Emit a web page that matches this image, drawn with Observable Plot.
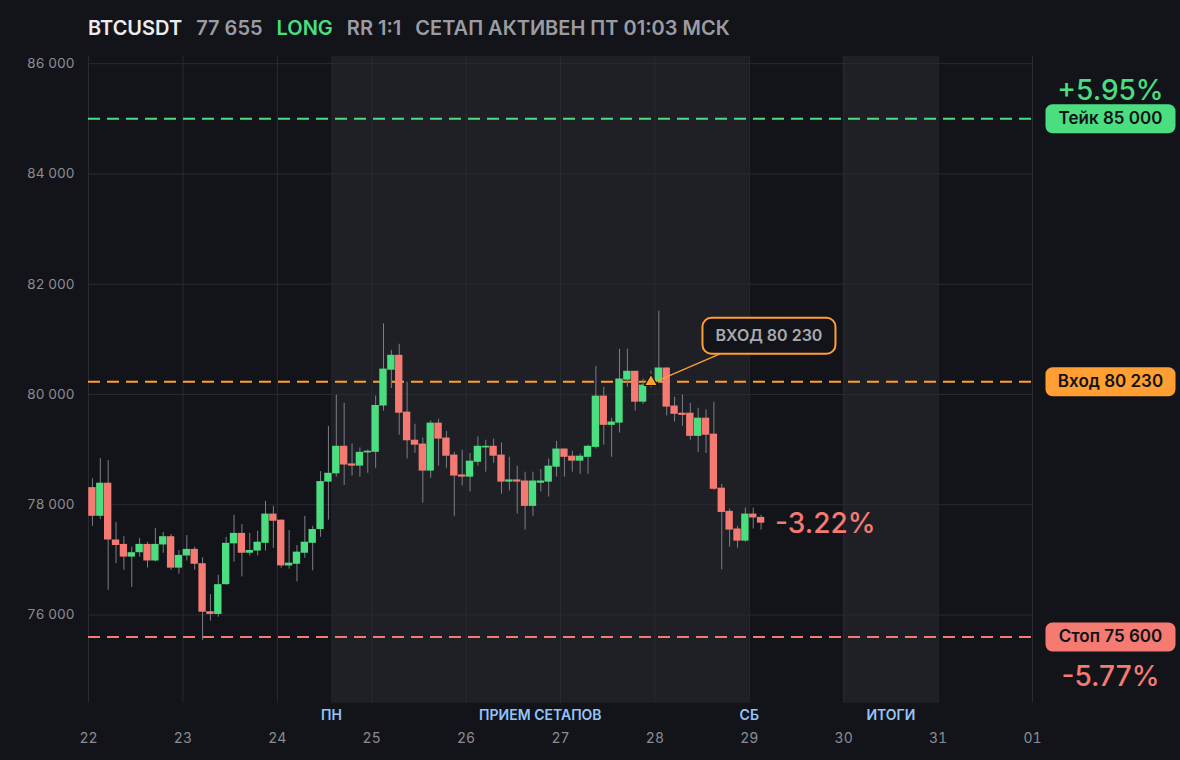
<!DOCTYPE html>
<html>
<head>
<meta charset="utf-8">
<script src="https://cdn.jsdelivr.net/npm/d3@7"></script>
<script src="https://cdn.jsdelivr.net/npm/@observablehq/plot@0.6"></script>
<style>
  html, body { margin: 0; padding: 0; background: #131419; }
  body { width: 1180px; height: 760px; overflow: hidden; font-family: Inter, "Noto Sans", sans-serif; }
  #title { height: 40px; padding-top: 8px; padding-left: 88px; line-height: 40px; font-size: 20px; font-weight: 600; color: #9b9ca3; white-space: nowrap; }
  #title span { margin-right: 14px; }
  #chart svg { display: block; }
</style>
</head>
<body>
<div id="title"><span style="color:#ececee">BTCUSDT</span><span>77 655</span><span style="color:#4ade80">LONG</span><span>RR 1:1</span><span>СЕТАП АКТИВЕН ПТ 01:03 МСК</span></div>
<div id="chart"></div>
<script>
// ---- data ----
const candleStart = "2025-03-22T00:00:00Z"; // 2-hour candles
const opens  = [78310,77790,78390,77360,77280,77050,77130,77280,76980,77270,77420,76850,77070,77190,76930,76060,76010,76550,77290,77480,77120,77160,77300,77830,77720,76890,76920,77120,77300,77550,78410,78560,79060,78740,78700,78940,78950,79790,80440,80710,79680,79170,79100,78610,79480,79210,78900,78540,78500,78770,79030,79060,78900,78410,78450,78430,77970,78390,78410,78680,79010,78880,78790,78860,79040,79970,79440,79480,80260,80420,79860,80170,80230,80480,79790,79660,79660,79240,79570,79280,78300,77880,77560,77340,77830,77770];
const highs  = [78470,78840,78800,77680,77420,77230,77390,77320,77570,77500,77460,77170,77440,77230,77040,76370,76720,77410,77810,77640,77480,77520,78060,77970,77720,77530,77260,77790,77610,78600,79420,79990,79840,79100,79030,78990,79970,81280,80800,80910,80220,79460,79210,79520,79550,79330,78950,78990,78930,79230,79170,79190,79120,78860,78700,78590,78590,78640,78830,79150,79010,78970,78920,79080,80510,80130,79570,80820,80820,80420,80280,80420,81510,80480,79950,79990,79840,79750,79720,79860,78370,77920,77610,77940,77940,77810];
const lows   = [77610,77730,76450,76930,76810,76500,77050,76850,76960,77120,76810,76740,76980,76810,75540,75890,75960,76540,76960,76690,77070,77070,77160,77210,76850,76830,76600,77030,76800,77410,77720,78500,78350,78520,78500,78570,78660,79700,80110,79260,78830,78930,78030,78480,78700,78660,77790,78340,78230,78700,78590,78750,78190,78250,77830,77540,77790,78230,78140,78500,78500,78590,78550,78550,79010,79080,78860,79300,80130,79700,79820,80120,80200,79610,79500,79420,79170,78950,78930,78260,76820,77230,77210,77320,77560,77540];
const closes = [77790,78390,77360,77260,77050,77130,77280,76980,77280,77420,76850,77080,77190,76920,76050,76010,76550,77300,77480,77120,77170,77320,77830,77700,76890,76940,77140,77320,77550,78420,78570,79060,78720,78700,78950,78970,79800,80460,80710,79660,79160,79080,78610,79480,79190,78880,78520,78500,78790,79060,79060,78880,78410,78450,78410,77970,78430,78430,78700,79010,78860,78790,78880,79060,79970,79440,79500,80280,80420,79860,80170,80230,80480,79770,79640,79620,79240,79570,79260,78280,77860,77540,77340,77830,77760,77665];

const levelNames  = ["Тейк 85 000", "Вход 80 230", "Стоп 75 600"];
const levelPrices = [85000, 80230, 75600];
const takePct = "+5.95%";
const stopPct = "-5.77%";

const entryTime  = "2025-03-27T23:00:00Z";
const entryPrice = 80230;
const entryLabel = "ВХОД 80 230";
const lastPct    = "-3.22%";

const xStart = "2025-03-22T00:00:00Z";
const xEnd   = "2025-04-01T00:00:00Z";
const yTicks = [76000, 78000, 80000, 82000, 84000, 86000];

const shadeStarts = ["2025-03-24T13:45:00Z", "2025-03-30T00:00:00Z"];
const shadeEnds   = ["2025-03-29T00:00:00Z", "2025-03-31T00:00:00Z"];
const phaseNames  = ["ПН", "ПРИЕМ СЕТАПОВ", "СБ", "ИТОГИ"];

// ---- colours ----
const BG = "#131419", SHADE = "#1f2025", GRID = "#2a2b30", AXIS = "#8b8d94";
const GREEN = "#4ade80", RED = "#f47a72", ORANGE = "#ff9f33", WICK = "#7c7e86", BLUE = "#93c5fd";
const levelColors = [GREEN, ORANGE, RED];

// ---- tables ----
const H2 = 2 * 3600 * 1000;
const t0 = new Date(candleStart).getTime();
const candles = opens.map((o, i) => ({
  t0: new Date(t0 + i * H2),
  t1: new Date(t0 + (i + 1) * H2),
  t: new Date(t0 + i * H2 + H2 / 2),
  open: o, high: highs[i], low: lows[i], close: closes[i]
}));
const levels = levelNames.map((name, i) => ({name, price: levelPrices[i], color: levelColors[i]}));
const shades = shadeStarts.map((s, i) => ({start: new Date(s), end: new Date(shadeEnds[i])}));
const sS = shades[0].start, sE = shades[0].end, s2 = shades[1];
const phases = [
  {t: sS, name: phaseNames[0]},
  {t: new Date((+sS + +sE) / 2), name: phaseNames[1]},
  {t: sE, name: phaseNames[2]},
  {t: new Date((+s2.start + +s2.end) / 2), name: phaseNames[3]}
];
const dayTicks = d3.utcDay.range(new Date(xStart), new Date(+new Date(xEnd) + 1));
const xMax = new Date(xEnd);
const last = candles[candles.length - 1];
const entry = [{t: new Date(entryTime), p: entryPrice}];

// ---- symbols ----
function roundRect(w, h, r, ox = 0, oy = 0) {
  return {draw(ctx) {
    const x0 = ox - w / 2, y0 = oy - h / 2, x1 = ox + w / 2, y1 = oy + h / 2;
    ctx.moveTo(x0 + r, y0);
    ctx.lineTo(x1 - r, y0);
    ctx.arcTo(x1, y0, x1, y0 + r, r);
    ctx.lineTo(x1, y1 - r);
    ctx.arcTo(x1, y1, x1 - r, y1, r);
    ctx.lineTo(x0 + r, y1);
    ctx.arcTo(x0, y1, x0, y1 - r, r);
    ctx.lineTo(x0, y0 + r);
    ctx.arcTo(x0, y0, x0 + r, y0, r);
    ctx.closePath();
  }};
}
const connector = {draw(ctx) { ctx.moveTo(4, 0); ctx.lineTo(69, -28); }};

const fmtK = d => d3.format(",")(d).replace(/,/g, " ");

const chart = Plot.plot({
  width: 1180,
  height: 712,
  marginTop: 8,
  marginBottom: 57.3,
  marginLeft: 88,
  marginRight: 148,
  style: {background: "transparent", color: AXIS, fontFamily: "Inter, 'Noto Sans', sans-serif", fontSize: "14px", overflow: "visible"},
  x: {type: "utc", domain: [new Date(xStart), xMax]},
  y: {domain: [74400, 86130]},
  color: {type: "identity"},
  marks: [
    Plot.rect(shades, {x1: "start", x2: "end", fill: SHADE}),
    Plot.ruleX(dayTicks, {stroke: GRID, strokeWidth: 1}),
    Plot.ruleY(yTicks, {stroke: GRID, strokeWidth: 1}),
    Plot.axisY(yTicks, {tickSize: 0, tickPadding: 14, tickFormat: fmtK, color: AXIS, fontSize: 13.5}),
    Plot.axisX(dayTicks, {tickSize: 0, tickPadding: 30, tickFormat: d3.utcFormat("%d"), color: AXIS, fontSize: 14}),
    Plot.text(phases, {x: "t", frameAnchor: "bottom", dy: 17, text: "name", fill: BLUE, fontSize: 14, fontWeight: 600}),
    Plot.ruleY(levels, {y: "price", stroke: "color", strokeWidth: 2, strokeDasharray: "12,7"}),
    Plot.ruleX(candles, {x: "t", y1: "low", y2: "high", stroke: WICK, strokeWidth: 1}),
    Plot.rect(candles, {x1: "t0", x2: "t1", y1: "open", y2: "close", insetLeft: 0.25, insetRight: 0.25,
      fill: d => d.close >= d.open ? GREEN : RED}),
    // entry marker & callout
    Plot.dot(entry, {x: "t", y: "p", symbol: connector, stroke: ORANGE, strokeWidth: 1.3, fill: "none"}),
    Plot.dot(entry, {x: "t", y: "p", symbol: "triangle", r: 4.8, fill: ORANGE, stroke: BG, strokeWidth: 1.2}),
    Plot.dot(entry, {x: "t", y: "p", dx: 118, dy: -46, symbol: roundRect(133, 36, 9), fill: BG, stroke: ORANGE, strokeWidth: 2}),
    Plot.text(entry, {x: "t", y: "p", dx: 118, dy: -46, text: () => entryLabel, fill: "#a9aab1", fontSize: 16, fontWeight: 600}),
    // last price %
    Plot.text([last], {x: "t", y: "close", dx: 14, dy: 1, text: () => lastPct, textAnchor: "start", fill: RED, fontSize: 28, fontWeight: 500}),
    // right badges
    Plot.dot(levels, {x: () => xMax, y: "price", dx: 78, symbol: roundRect(130, 29, 7), fill: "color", stroke: "none"}),
    Plot.text(levels, {x: () => xMax, y: "price", dx: 78, text: "name", fill: "#111216", fontSize: 17, fontWeight: 600}),
    Plot.text([levels[0]], {x: () => xMax, y: "price", dx: 78, dy: -28, text: () => takePct, fill: GREEN, fontSize: 28, fontWeight: 500}),
    Plot.text([levels[2]], {x: () => xMax, y: "price", dx: 78, dy: 40, text: () => stopPct, fill: RED, fontSize: 28, fontWeight: 500})
  ]
});
document.getElementById("chart").append(chart);
</script>
</body>
</html>
